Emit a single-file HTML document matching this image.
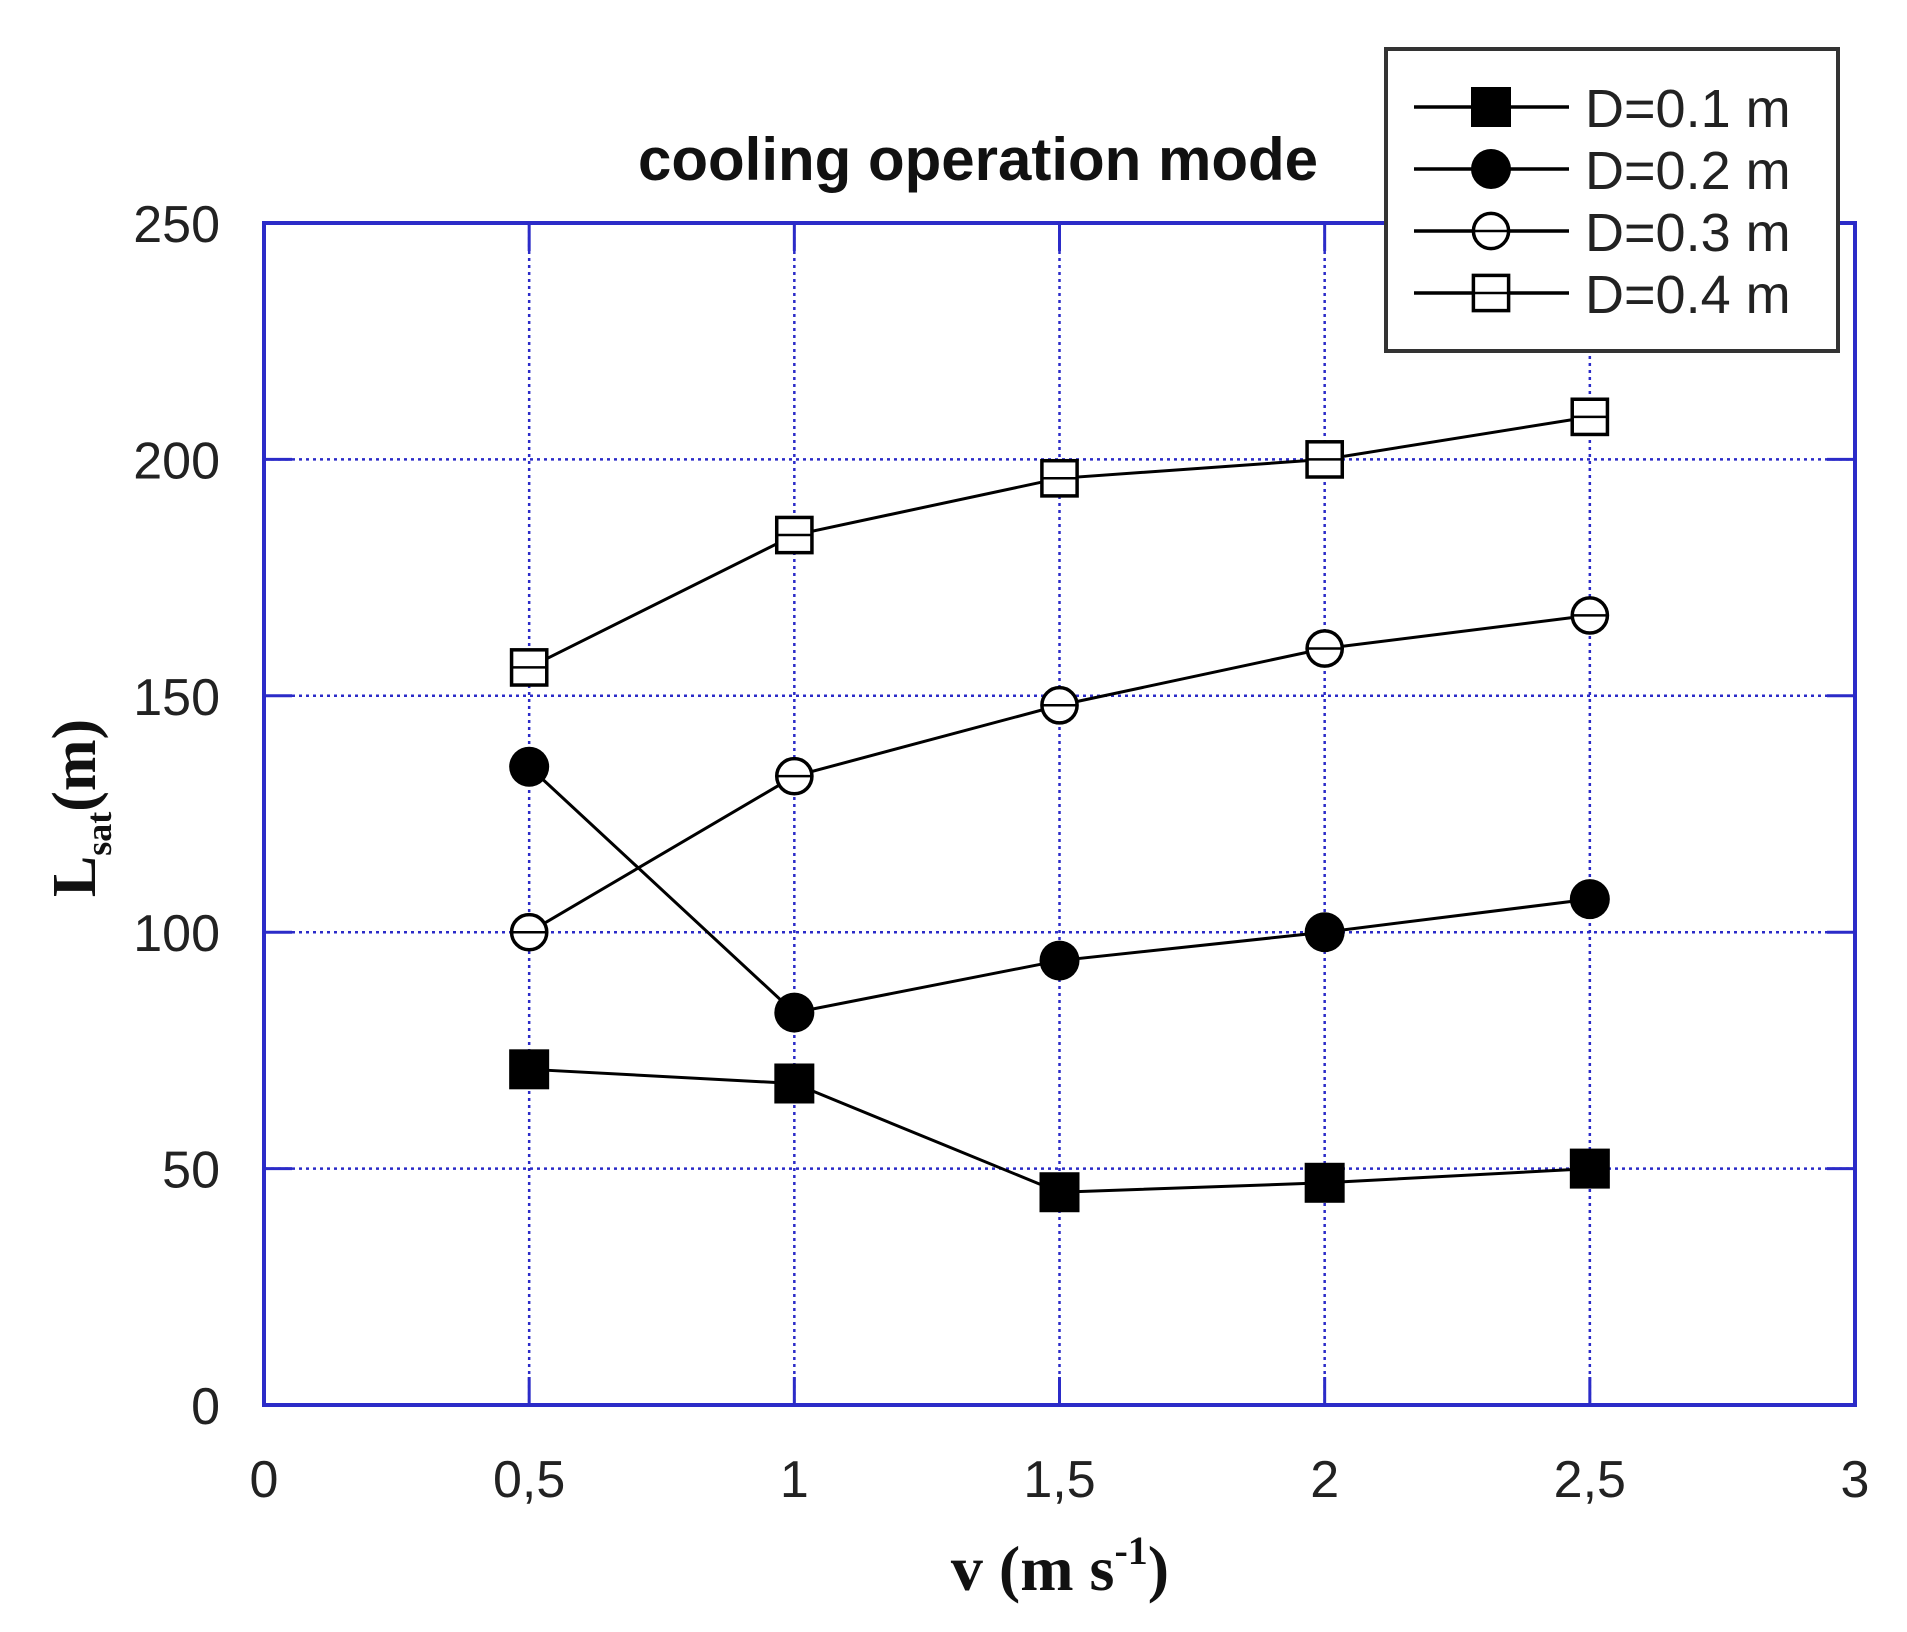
<!DOCTYPE html>
<html><head><meta charset="utf-8"><style>
html,body{margin:0;padding:0;background:#fff;}
svg{display:block;}
</style></head><body>
<svg id="chart" width="1907" height="1632" viewBox="0 0 1907 1632" xmlns="http://www.w3.org/2000/svg">
<g id="grid"></g>
<g id="series"></g>
<g id="axes"></g>
<text x="978" y="180" text-anchor="middle" font-family="Liberation Sans, sans-serif" font-weight="bold" font-size="60" fill="#111">cooling operation mode</text>
<text x="1060" y="1590" text-anchor="middle" font-family="Liberation Serif, serif" font-weight="bold" font-size="64" fill="#111">v (m s<tspan dy="-26" font-size="40">-1</tspan><tspan dy="26">)</tspan></text>
<text transform="translate(95,808) rotate(-90)" text-anchor="middle" font-family="Liberation Serif, serif" font-weight="bold" font-size="62" fill="#111">L<tspan dy="16" font-size="36">sat</tspan><tspan dy="-16">(m)</tspan></text>
<g id="legend"></g>
</svg>
<script>
const xTicks = [0, 0.5, 1, 1.5, 2, 2.5, 3];
const xTickLabels = ["0", "0,5", "1", "1,5", "2", "2,5", "3"];
const yTicks = [0, 50, 100, 150, 200, 250];
const yTickLabels = ["0", "50", "100", "150", "200", "250"];
const velocities = [0.5, 1, 1.5, 2, 2.5];
const seriesNames = ["D=0.1 m", "D=0.2 m", "D=0.3 m", "D=0.4 m"];
const d01 = [71, 68, 45, 47, 50];
const d02 = [135, 83, 94, 100, 107];
const d03 = [100, 133, 148, 160, 167];
const d04 = [156, 184, 196, 200, 209];
const markerTypes = ["fsquare", "fcircle", "ocircle", "osquare"];

const L = 264, R = 1855, T = 223, B = 1405;
const xs = v => L + (v - 0) / 3 * (R - L);
const ys = v => B - (v - 0) / 250 * (B - T);
const NS = "http://www.w3.org/2000/svg";
function mk(tag, attrs, parent) {
  const e = document.createElementNS(NS, tag);
  for (const k in attrs) e.setAttribute(k, attrs[k]);
  parent.appendChild(e);
  return e;
}
const grid = document.getElementById('grid');
const axes = document.getElementById('axes');
const seriesG = document.getElementById('series');
const legend = document.getElementById('legend');
const blue = "#2b2bc8";

xTicks.forEach((t, i) => {
  const x = xs(t);
  if (i > 0 && i < xTicks.length - 1) {
    const g = mk('line', {x1: x, x2: x, y1: T, y2: B, stroke: blue, 'stroke-width': 2.5, 'stroke-dasharray': '3 4'}, grid);
    
    
    mk('line', {x1: x, x2: x, y1: T, y2: T + 28, stroke: blue, 'stroke-width': 3}, axes);
    mk('line', {x1: x, x2: x, y1: B, y2: B - 28, stroke: blue, 'stroke-width': 3}, axes);
  }
  const lb = mk('text', {x: x, y: 1497, 'text-anchor': 'middle', 'font-family': 'Liberation Sans, sans-serif', 'font-size': 52, fill: '#222'}, axes);
  lb.textContent = xTickLabels[i];
  
  
});
yTicks.forEach((t, i) => {
  const y = ys(t);
  if (i > 0 && i < yTicks.length - 1) {
    const g = mk('line', {x1: L, x2: R, y1: y, y2: y, stroke: blue, 'stroke-width': 2.5, 'stroke-dasharray': '3 4'}, grid);
    
    
    mk('line', {x1: L, x2: L + 28, y1: y, y2: y, stroke: blue, 'stroke-width': 3}, axes);
    mk('line', {x1: R, x2: R - 28, y1: y, y2: y, stroke: blue, 'stroke-width': 3}, axes);
  }
  const lb = mk('text', {x: 220, y: y + 19, 'text-anchor': 'end', 'font-family': 'Liberation Sans, sans-serif', 'font-size': 52, fill: '#222'}, axes);
  lb.textContent = yTickLabels[i];
  
  
});
const frame = mk('rect', {x: L, y: T, width: R - L, height: B - T, fill: 'none', stroke: blue, 'stroke-width': 4}, axes);



function marker(type, cx, cy, parent, s) {
  let e;
  if (type === 'fsquare') e = mk('rect', {x: cx - s / 2, y: cy - s / 2, width: s, height: s, fill: '#000'}, parent);
  else if (type === 'osquare') e = mk('rect', {x: cx - s * 0.44, y: cy - s * 0.44, width: s * 0.88, height: s * 0.88, fill: '#fff', stroke: '#000', 'stroke-width': 3.5}, parent);
  else if (type === 'fcircle') e = mk('circle', {cx: cx, cy: cy, r: s / 2, fill: '#000'}, parent);
  else e = mk('circle', {cx: cx, cy: cy, r: s * 0.44, fill: '#fff', stroke: '#000', 'stroke-width': 3.5}, parent);
  if (type === 'ocircle' || type === 'osquare') mk('line', {x1: cx - s * 0.44, x2: cx + s * 0.44, y1: cy, y2: cy, stroke: '#000', 'stroke-width': 2.5}, parent);
  return e;
}

const allSeries = [d01, d02, d03, d04];
allSeries.forEach((data, si) => {
  const g = mk('g', {}, seriesG);
  
  
  const pts = data.map((v, i) => xs(velocities[i]) + ',' + ys(v)).join(' ');
  mk('polyline', {points: pts, fill: 'none', stroke: '#000', 'stroke-width': 3}, g);
  data.forEach((v, i) => {
    const m = marker(markerTypes[si], xs(velocities[i]), ys(v), g, 40);
    
    
  });
});

const box = mk('rect', {x: 1386, y: 49, width: 452, height: 302, fill: '#fff', stroke: '#333', 'stroke-width': 4}, legend);


const rowsY = [107, 169, 231, 293];
seriesNames.forEach((n, i) => {
  const g = mk('g', {}, legend);
  
  
  const y = rowsY[i];
  mk('line', {x1: 1414, x2: 1569, y1: y, y2: y, stroke: '#000', 'stroke-width': 3.5}, g);
  marker(markerTypes[i], 1491, y, g, 40);
  const t = mk('text', {x: 1585, y: y + 20, 'font-family': 'Liberation Sans, sans-serif', 'font-size': 54, fill: '#222'}, g);
  t.textContent = n;
});
</script>
</body></html>
